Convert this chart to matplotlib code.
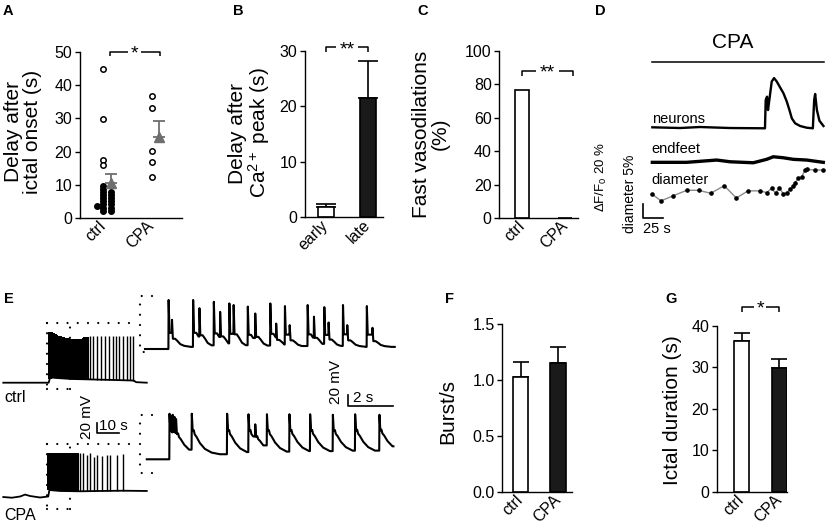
import numpy as np
import matplotlib
matplotlib.use('Agg')
import matplotlib.pyplot as plt

plt.rcParams['font.family'] = ['Liberation Sans', 'DejaVu Sans']
plt.rcParams['mathtext.fontset'] = 'custom'
plt.rcParams['mathtext.rm'] = 'Liberation Sans'
plt.rcParams['mathtext.it'] = 'Liberation Sans:italic'
plt.rcParams['mathtext.bf'] = 'Liberation Sans:bold'
plt.rcParams['axes.linewidth'] = 1.0

# ================= DATA =================
# ---- Panel A: delay after ictal onset (s) ----
a_categories = ['ctrl', 'CPA']
a_ctrl_open = [44.8, 29.9, 17.6, 16.0]
a_ctrl_filled_col1 = [2.2, 3.2, 4.2, 5.2, 6.1, 7.0, 7.9, 8.8, 9.7]
a_ctrl_filled_col2 = [2.2, 3.2, 4.2, 5.2, 6.1, 7.0, 7.8]
a_ctrl_filled_side = [3.7]
a_cpa_open = [36.7, 33.1, 20.1, 16.9, 12.5]
a_mean = [10.7, 24.3]
a_sem = [2.5, 4.8]

# ---- Panel B: delay after Ca2+ peak (s) ----
b_categories = ['early', 'late']
b_values = [1.9, 21.4]
b_sem = [0.5, 6.8]

# ---- Panel C: fast vasodilations (%) ----
c_categories = ['ctrl', 'CPA']
c_values = [76.7, 0.0]

# ---- Panel F: burst/s ----
f_categories = ['ctrl', 'CPA']
f_values = [1.03, 1.15]
f_sem = [0.13, 0.15]

# ---- Panel G: ictal duration (s) ----
g_categories = ['ctrl', 'CPA']
g_values = [36.4, 29.7]
g_sem = [1.9, 2.2]

# ---- Panel D: traces (time s; dF/F0 %; diameter %) ----
d_neuron_t = [0.4, 34.0, 58.3, 94.7, 137.1, 138.0, 139.6, 140.8, 142.4, 145.3, 148.1,
              151.4, 155.3, 159.5, 163.6, 166.8, 169.7, 173.7, 179.8, 187.9, 195.2,
              196.8, 198.0, 200.1, 203.2, 208.1]
d_neuron_v = [0, -1, 0.4, -1, -1.4, 38.2, 42.8, 24.1, 38.2, 64.0, 68.8,
              64.0, 56.1, 47.7, 35.9, 24.1, 12.5, 5.6, 1.8, -0.6, -1.4,
              38.2, 46.6, 24.1, 9.2, 1.8]
d_endfeet_t = [0.4, 42.1, 78.5, 94.7, 122.9, 139.2, 147.2, 159.3, 171.5, 187.7, 207.9]
d_endfeet_v = [0, 0, 3.2, 0.8, -0.6, 4.2, 7.8, 6.4, 4.2, 3.2, 0]
d_diam_t = [0.4, 10.9, 25.9, 42.1, 56.7, 71.2, 87.7, 102.3, 116.5, 131.1, 139.2, 145.3,
            150.1, 154.5, 159.4, 163.5, 167.5, 171.5, 173.5, 177.5, 181.6, 185.7, 188.5,
            197.8, 207.9]
d_diam_v = [0, -2.3, -0.5, 1.4, 1.4, 0.35, 3.0, -1.3, 1.2, 1.2, 0.6, 2.1,
            0.35, 2.3, 0.1, 0.6, 1.7, 2.9, 4.0, 5.6, 6.1, 8.5, 8.7,
            8.5, 8.5]
d_cpa_span = [0, 209]
d_trace_names = ['neurons', 'endfeet', 'diameter']

# ---- Panel E: whole ictal event (s, mV) ----
e_ctrl_env_t = [0, 20.0, 20.6, 23, 30, 40, 50, 57.5, 58.5, 63.2]
e_ctrl_env_v = [0, 0, 10, 9, 7, 6, 5, 4, 1, 0]
e_ctrl_burst_t = [20.4, 21.15, 21.9, 22.65, 23.4, 24.15, 24.9, 25.65, 26.4, 27.15, 27.9,
                  28.65, 29.4, 30.15, 30.9, 31.65, 32.4, 33.15, 33.9, 34.65, 35.4, 36.2,
                  37.0, 38.2, 39.6, 41.4, 43.0, 44.7, 46.4, 48.2, 49.6, 51.1, 52.6,
                  54.4, 55.8, 57.3]
e_ctrl_burst_v = [96, 95, 93, 92, 90, 89, 88, 87, 86, 85, 85,
                  84, 83, 82, 82, 82, 82, 82, 82, 83, 84, 86,
                  87, 88, 88, 88, 89, 88, 88, 89, 88, 88, 88,
                  88, 88, 88]
e_cpa_env_t = [0, 3.8, 7.4, 9.6, 11.8, 16.2, 19.8, 20.3, 25.0, 33.8, 42.6, 52.7, 63.2]
e_cpa_env_v = [-0.6, -1.9, 0.4, 4.0, 1.3, -1.5, 0.4, 12.6, 10.8, 10.2, 10.8, 11.3, 10.8]
e_cpa_burst_t = [20.3, 21.0, 21.8, 22.5, 23.3, 24.0, 24.8, 25.6, 26.4, 27.2, 28.0,
                 28.8, 29.6, 30.5, 31.4, 32.3, 33.8, 35.2, 37.0, 38.2, 40.0, 41.4,
                 43.4, 45.6, 47.0, 50.0, 52.6]
e_cpa_burst_v = [82, 82, 82, 82, 82, 82, 82, 82, 82, 82, 82,
                 82, 82, 82, 82, 82, 82, 82, 79, 82, 74, 79,
                 76, 79, 79, 79, 80]
e_ctrl_dense_end = 37.5   # end of the fused (dense) part of the discharge
e_cpa_dense_end = 32.8
e_zoom_window = [19.4, 29.4]

# expanded 10-s segments: burst onsets (s), peak level (mV), post-burst level (mV)
e_ctrl_x_onset = [1.04, 1.19, 2.13, 2.41, 3.05, 3.33, 3.74, 3.93, 4.56, 4.89, 5.56, 5.82,
                  6.21, 6.42, 7.22, 7.50, 7.96, 8.15, 8.79, 8.98, 9.85, 10.10]
e_ctrl_x_peak = [92.5, 55, 92.5, 77, 89, 70, 86, 83, 80, 67, 86, 48,
                 81, 45, 83, 61, 79, 50, 83, 45, 81, 40]
e_ctrl_x_base = [4] * 22
e_ctrl_x_end = 11.1
e_cpa_x_onset = [1.08, 1.15, 1.22, 1.30, 1.37, 2.07, 3.64, 4.59, 4.89, 5.41, 6.41,
                 7.33, 8.34, 9.33, 10.41]
e_cpa_x_peak = [86, 82, 84, 80, 76, 86, 86, 85, 66, 85, 85,
                85, 84, 85, 84]
e_cpa_x_base = [8, 8, 8, 8, 8, 8, 9, 10, 10, 10, 11, 11, 12, 12, 14]
e_cpa_x_start = 0.08
e_cpa_x_end = 11.04
# burst waveform (time after onset s, fraction of amplitude)
e_ctrl_shape_t = [0, 0.01, 0.05, 0.15, 0.25, 0.38, 0.55, 0.85]
e_ctrl_shape_f = [0, 1.0, 0.30, 0.30, 0.22, 0.10, 0.04, 0.0]
e_cpa_shape_t = [0, 0.01, 0.05, 0.10, 0.14, 0.22, 0.37, 0.59, 0.89, 1.26]
e_cpa_shape_f = [0, 1.0, 0.58, 0.60, 0.50, 0.44, 0.29, 0.15, 0.06, 0.02]

# ================= FIGURE =================
W, H = 827, 525
fig = plt.figure(figsize=(W / 100, H / 100), dpi=100)


def add_ax(x0, y0, x1, y1):
    return fig.add_axes([x0 / W, 1 - y1 / H, (x1 - x0) / W, (y1 - y0) / H])


def px_ax(x0, y0, x1, y1, ox, oy, sx, sy):
    ax = add_ax(x0, y0, x1, y1)
    ax.set_xlim((x0 - ox) / sx, (x1 - ox) / sx)
    ax.set_ylim((oy - y1) / sy, (oy - y0) / sy)
    ax.axis('off')
    return ax


def ftext(x, y, s, **kw):
    fig.text(x / W, 1 - y / H, s, **kw)


TICK = 11.5
LAB = 15


def style(ax, xlim, ylim, yticks, ytl, positions, labels):
    ax.set_xlim(*xlim)
    ax.set_ylim(*ylim)
    for s in ['top', 'right']:
        ax.spines[s].set_visible(False)
    ax.set_yticks(yticks)
    ax.set_yticklabels(ytl, fontsize=TICK)
    ax.tick_params(axis='y', direction='out', length=3.5, width=1.0, pad=2)
    ax.tick_params(axis='x', length=0, pad=4)
    ax.set_xticks(positions)
    ax.set_xticklabels(labels, rotation=45, ha='right', va='center',
                       rotation_mode='anchor', fontsize=TICK)
    ax.patch.set_alpha(0)


def bracket(ax, x1, x2, y, h, text, gap, ty):
    xm = (x1 + x2) / 2
    kw = dict(color='k', lw=1.1, clip_on=False, solid_capstyle='butt')
    ax.plot([x1, x1, xm - gap], [y - h, y, y], **kw)
    ax.plot([xm + gap, x2, x2], [y, y, y - h], **kw)
    ax.text(xm, ty, text, ha='center', va='center', fontsize=14)


pos = [0, 1]
gray = '#6e6e6e'

# ---- A ----
axA = add_ax(80, 51.7, 182, 218.3)
style(axA, (-0.47, 1.62), (0, 50), [0, 10, 20, 30, 40, 50],
      ['0', '10', '20', '30', '40', '50'], pos, a_categories)
ms = dict(ls='none', marker='o', markersize=3.9, mec='k', mew=1.1, clip_on=False, zorder=3)
axA.plot([0] * len(a_ctrl_filled_col1), a_ctrl_filled_col1, mfc='k', **ms)
axA.plot([0.16] * len(a_ctrl_filled_col2), a_ctrl_filled_col2, mfc='k', **ms)
axA.plot([-0.13] * len(a_ctrl_filled_side), a_ctrl_filled_side, mfc='k', **ms)
axA.plot([0] * len(a_ctrl_open), a_ctrl_open, mfc='white', **ms)
axA.plot([1] * len(a_cpa_open), a_cpa_open, mfc='white', **ms)
axA.errorbar([0.16, 1.155], a_mean, yerr=[[0, 0], a_sem], fmt='none', ecolor=gray,
             elinewidth=1.3, capsize=4.5, capthick=1.3, zorder=4)
axA.plot([0.16, 1.155], a_mean, ls='none', marker='^', markersize=7.5, color=gray, zorder=5)
bracket(axA, 0.14, 1.16, 50, 1.2, '*', 0.13, 49.4)

# ---- B ----
axB = add_ax(305, 50.7, 383, 217.3)
style(axB, (-0.494, 1.35), (0, 30), [0, 10, 20, 30], ['0', '10', '20', '30'], pos, b_categories)
axB.errorbar(pos, b_values, yerr=[[0, 0], b_sem], fmt='none', ecolor='k', elinewidth=1.2,
             capsize=7, capthick=1.2, zorder=1)
axB.bar(pos, b_values, width=0.376, color=['white', '#1a1a1a'], edgecolor='k', linewidth=1.2, zorder=2)
bracket(axB, 0.0, 1.0, 30.7, 0.9, '**', 0.26, 30.1)

# ---- C ----
axC = add_ax(499.3, 51, 578, 218.3)
style(axC, (-0.533, 1.3), (0, 100), [0, 20, 40, 60, 80, 100],
      ['0', '20', '40', '60', '80', '100'], pos, c_categories)
axC.bar(pos, c_values, width=0.33, color='white', edgecolor='k', linewidth=1.2, zorder=2)
bracket(axC, 0.0, 1.18, 88.2, 3.1, '**', 0.26, 86.6)

# ---- F ----
axF = add_ax(502.3, 324.3, 571.7, 491.7)
style(axF, (-0.485, 1.36), (0, 1.5), [0, 0.5, 1.0, 1.5], ['0.0', '0.5', '1.0', '1.5'],
      pos, f_categories)
axF.errorbar(pos, f_values, yerr=[[0, 0], f_sem], fmt='none', ecolor='k', elinewidth=1.2,
             capsize=6, capthick=1.2, zorder=1)
axF.bar(pos, f_values, width=0.42, color=['white', '#1a1a1a'], edgecolor='k', linewidth=1.2, zorder=2)

# ---- G ----
axG = add_ax(716.7, 325.7, 786.7, 491.7)
style(axG, (-0.667, 1.2), (0, 40), [0, 10, 20, 30, 40], ['0', '10', '20', '30', '40'],
      pos, g_categories)
axG.errorbar(pos, g_values, yerr=[[0, 0], g_sem], fmt='none', ecolor='k', elinewidth=1.2,
             capsize=6, capthick=1.2, zorder=1)
axG.bar(pos, g_values, width=0.4, color=['white', '#1a1a1a'], edgecolor='k', linewidth=1.2, zorder=2)
bracket(axG, 0.0, 1.0, 44.6, 1.2, '*', 0.16, 44.0)

# y labels
lab = dict(rotation=90, ha='center', va='center', fontsize=LAB, linespacing=1.0,
           multialignment='center')
ftext(23, 132, 'Delay after\nictal onset (s)', **lab)
ftext(250, 133, 'Delay after\nCa$^{2+}$ peak (s)', **lab)
ftext(431, 134, 'Fast vasodilations\n(%)', **lab)
ftext(448, 411, 'Burst/s', **lab)
ftext(672, 410, 'Ictal duration (s)', **lab)

# panel letters
for (x, y, s) in [(3, 4, 'A'), (233, 4, 'B'), (417, 4, 'C'), (595, 4, 'D'),
                  (4, 292, 'E'), (445, 292, 'F'), (665, 292, 'G')]:
    ftext(x, y, s, ha='left', va='top', fontsize=10.5, fontweight='bold')

# ---- D ----
axD = px_ax(585, 25, 827, 240, 652, 127.3, 0.824, 0.715)
endfeet_off = -49.0
diam_off = -93.7
diam_gain = 4.0   # 5 % diameter drawn as tall as 20 % dF/F0
axD.plot(d_cpa_span, [90.9, 90.9], color='k', lw=1.1)
axD.text(np.mean(d_cpa_span) - 6, 118, 'CPA', ha='center', va='center', fontsize=15)
axD.plot(d_neuron_t, d_neuron_v, color='k', lw=1.7)
axD.plot(d_endfeet_t, [endfeet_off + v for v in d_endfeet_v], color='k', lw=2.4)
axD.plot(d_diam_t, [diam_off + diam_gain * v for v in d_diam_v], color='#8a8a8a', lw=1.0,
         marker='o', markersize=2.3, mfc='k', mec='k')
for name, yy in zip(d_trace_names, [12, endfeet_off + 18, diam_off + 20]):
    axD.text(-0.5, yy, name, ha='left', va='center', fontsize=10.5)
axD.plot([-11.3, -11.3, 13.7], [-107.3, -127.3, -127.3], color='k', lw=1.2)
axD.text(-10.9, -133, '25 s', ha='left', va='top', fontsize=10.5)
axD.text(-61.9, -69.5, '\u0394F/F$_0$ 20 %', rotation=90, ha='center', va='center', fontsize=9.5)
axD.text(-26.7, -93.3, 'diameter 5%', rotation=90, ha='center', va='center', fontsize=10)


# ---- E ----
def build(t_start, v_start, onsets, peaks, bases, sh_t, sh_f, t_end):
    ts, vs = [t_start], [v_start]
    n = len(onsets)
    for i in range(n):
        on = onsets[i]
        nxt = onsets[i + 1] if i + 1 < n else t_end
        ts.append(on)
        vs.append(vs[-1])
        for dt, fr in zip(sh_t[1:], sh_f[1:]):
            if on + dt >= nxt:
                break
            ts.append(on + dt)
            vs.append(bases[i] + fr * (peaks[i] - bases[i]))
    ts.append(t_end)
    vs.append(vs[-1])
    return ts, vs


def spikes(ax, bt, bv, env_t, env_v, dense_end):
    bt = np.asarray(bt)
    bv = np.asarray(bv)
    low = np.interp(bt, env_t, env_v)
    d = bt <= dense_end
    ax.vlines(bt[d], low[d], bv[d], color='k', lw=1.5, antialiased=False)
    ax.vlines(bt[~d], low[~d], bv[~d], color='k', lw=1.0)


dots = dict(color='k', lw=1.6, linestyle=(0, (0.01, 4.6)), dash_capstyle='round', clip_on=False)

# compressed ctrl
axc = px_ax(0, 280, 160, 400, 3.3, 382.7, 2.27, 0.53)
axc.plot(e_ctrl_env_t, e_ctrl_env_v, color='k', lw=1.3)
spikes(axc, e_ctrl_burst_t, e_ctrl_burst_v, e_ctrl_env_t, e_ctrl_env_v, e_ctrl_dense_end)
w0, w1 = e_zoom_window
axc.plot([w0, 59.5], [112, 112], **dots)
axc.plot([w0, w0], [112, -12.5], **dots)
axc.plot([w0, w1], [-12.5, -12.5], **dots)
axc.plot([w1, w1], [-12.5, 112], **dots)

# compressed CPA
axp = px_ax(0, 400, 160, 525, 3.3, 496.7, 2.27, 0.53)
axp.plot(e_cpa_env_t, e_cpa_env_v, color='k', lw=1.3)
spikes(axp, e_cpa_burst_t, e_cpa_burst_v, e_cpa_env_t, e_cpa_env_v, e_cpa_dense_end)
axp.plot([w0, 59.5], [99.4, 99.4], **dots)
axp.plot([w0, w0], [99.4, -23.8], **dots)
axp.plot([w0, w1], [-23.8, -23.8], **dots)
axp.plot([w1, w1], [-23.8, 99.4], **dots)
# scale bar for compressed traces
axp.plot([41.1, 41.1, 51.1], [139.6, 119.6, 119.6], color='k', lw=1.2, clip_on=False)
axp.text(42.0, 120.5, '10 s', ha='left', va='bottom', fontsize=11)
axp.text(37.0, 150, '20 mV', rotation=90, ha='center', va='center', fontsize=11)

# expanded ctrl
axxc = px_ax(140, 285, 400, 360, 145, 349, 22.5, 0.53)
tc, vc = build(0.0, 0.0, e_ctrl_x_onset, e_ctrl_x_peak, e_ctrl_x_base,
               e_ctrl_shape_t, e_ctrl_shape_f, e_ctrl_x_end)
axxc.plot(tc, vc, color='k', lw=1.5, clip_on=False)
axxc.plot([0.3, -0.22, -0.22, 0.3], [100, 100, -5.1, -5.1], **dots)
axxc.plot([9.04, 9.04, 11.04], [-87.5, -107.5, -107.5], color='k', lw=1.2, clip_on=False)
axxc.text(9.24, -106.5, '2 s', ha='left', va='bottom', fontsize=11)
axxc.text(8.5, -62, '20 mV', rotation=90, ha='center', va='center', fontsize=11)

# expanded CPA
axxp = px_ax(140, 405, 400, 480, 145, 459.3, 22.5, 0.53)
tp, vp = build(e_cpa_x_start, 0.0, e_cpa_x_onset, e_cpa_x_peak, e_cpa_x_base,
               e_cpa_shape_t, e_cpa_shape_f, e_cpa_x_end)
axxp.plot(tp, vp, color='k', lw=1.5, clip_on=False)
axxp.plot([0.3, -0.22, -0.22, 0.3], [83.6, 83.6, -25.8, -25.8], **dots)

ftext(4, 398, 'ctrl', ha='left', va='center', fontsize=11.5)
ftext(4, 515, 'CPA', ha='left', va='center', fontsize=11.5)

fig.savefig('out.png', dpi=100)
